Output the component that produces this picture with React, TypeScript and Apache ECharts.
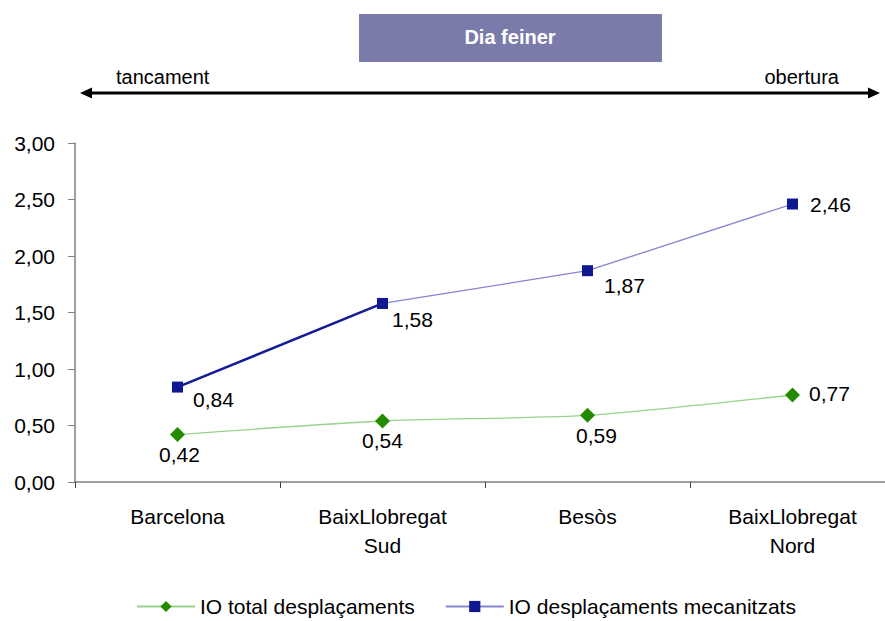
import React, { useEffect, useRef } from "react";
import * as echarts from "echarts";

const categories = ["Barcelona", "BaixLlobregat\nSud", "Besòs", "BaixLlobregat\nNord"];
const totalValues = [0.42, 0.54, 0.59, 0.77];
const mecanValues = [0.84, 1.58, 1.87, 2.46];
const firstSegment = [0.84, 1.58, null, null];
const yTicks = { min: 0, max: 3, interval: 0.5 };
const seriesNames = ["IO total desplaçaments", "IO desplaçaments mecanitzats"];

const totalLabelPos: any[] = [
  { position: "bottom", distance: 2, offset: [2, 0] },
  { position: "bottom", distance: 2, offset: [0, 0] },
  { position: "bottom", distance: 2, offset: [9, 0] },
  { position: "right", distance: 9, offset: [0, -1] },
];
const mecanLabelPos: any[] = [
  { position: "right", distance: 5, offset: [5, 12] },
  { position: "right", distance: 5, offset: [-1, 16] },
  { position: "right", distance: 5, offset: [6, 15] },
  { position: "right", distance: 5, offset: [7, 0] },
];

const fmt = (v: number) => v.toFixed(2).replace(".", ",");
const FONT = "Liberation Sans, Arial, sans-serif";

export default function App() {
  const ref = useRef<HTMLDivElement>(null);
  useEffect(() => {
    if (!ref.current) return;
    const chart = echarts.init(ref.current, null, { renderer: "svg" });
    const option: any = {
      animation: false,
      backgroundColor: "#ffffff",
      textStyle: { fontFamily: FONT },
      grid: { left: 75, top: 143, width: 820, height: 339, containLabel: false },
      xAxis: {
        type: "category",
        data: categories,
        boundaryGap: true,
        axisLine: { lineStyle: { color: "#808080", width: 1.5 } },
        axisTick: { show: true, length: 6, lineStyle: { color: "#404040" } },
        axisLabel: { color: "#000", fontSize: 21, margin: 20, lineHeight: 29, fontFamily: FONT },
        splitLine: { show: false },
      },
      yAxis: {
        type: "value",
        min: yTicks.min,
        max: yTicks.max,
        interval: yTicks.interval,
        axisLine: { show: true, lineStyle: { color: "#808080", width: 1.5 } },
        axisTick: { show: true, length: 7, lineStyle: { color: "#808080" } },
        axisLabel: { color: "#000", fontSize: 21, margin: 20, formatter: (v: number) => fmt(v), fontFamily: FONT },
        splitLine: { show: false },
      },
      legend: {
        data: seriesNames,
        top: 591,
        left: 131,
        itemWidth: 58,
        itemHeight: 14,
        itemGap: 30,
        textStyle: { color: "#000", fontSize: 21, lineHeight: 21, fontFamily: FONT },
      },
      graphic: [
        {
          type: "rect",
          shape: { x: 359, y: 14, width: 303, height: 48 },
          style: { fill: "#7B7BAB" },
        },
        {
          type: "text",
          x: 510,
          y: 37,
          style: {
            text: "Dia feiner",
            fill: "#ffffff",
            font: "bold 20px " + FONT,
            align: "center",
            verticalAlign: "middle",
          },
        },
        {
          type: "text",
          x: 116,
          y: 77,
          style: { text: "tancament", fill: "#000", font: "20px " + FONT, align: "left", verticalAlign: "middle" },
        },
        {
          type: "text",
          x: 839,
          y: 77,
          style: { text: "obertura", fill: "#000", font: "20px " + FONT, align: "right", verticalAlign: "middle" },
        },
        {
          type: "line",
          shape: { x1: 88, y1: 93, x2: 872, y2: 93 },
          style: { stroke: "#000", lineWidth: 3 },
        },
        {
          type: "polygon",
          shape: { points: [[80, 93], [92, 87.5], [92, 98.5]] },
          style: { fill: "#000" },
        },
        {
          type: "polygon",
          shape: { points: [[880, 93], [868, 87.5], [868, 98.5]] },
          style: { fill: "#000" },
        },
      ],
      series: [
        {
          name: seriesNames[0],
          type: "line",
          z: 3,
          data: totalValues.map((v, i) => ({ value: v, label: totalLabelPos[i] })),
          smooth: 0.2,
          symbol: "diamond",
          symbolSize: 15,
          itemStyle: { color: "#228B00" },
          lineStyle: { color: "#96D48A", width: 1.3 },
          label: { show: true, color: "#000", fontSize: 21, fontFamily: FONT, formatter: (p: any) => fmt(p.value) },
        },
        {
          name: seriesNames[1] + " ",
          type: "line",
          z: 5,
          silent: true,
          data: firstSegment,
          symbol: "none",
          lineStyle: { color: "#141C96", width: 2.5 },
        },
        {
          name: seriesNames[1],
          type: "line",
          z: 4,
          data: mecanValues.map((v, i) => ({ value: v, label: mecanLabelPos[i] })),
          smooth: false,
          symbol: "rect",
          symbolSize: 11,
          itemStyle: { color: "#10188F" },
          lineStyle: { color: "#8585D2", width: 1.3 },
          label: { show: true, color: "#000", fontSize: 21, fontFamily: FONT, formatter: (p: any) => fmt(p.value) },
        },
      ],
    };
    chart.setOption(option);
    return () => chart.dispose();
  }, []);
  return (
    <div style={{ position: "absolute", left: 0, top: 0, width: 885, height: 621, overflow: "hidden" }}>
      <div ref={ref} style={{ width: 900, height: 621 }} />
    </div>
  );
}
